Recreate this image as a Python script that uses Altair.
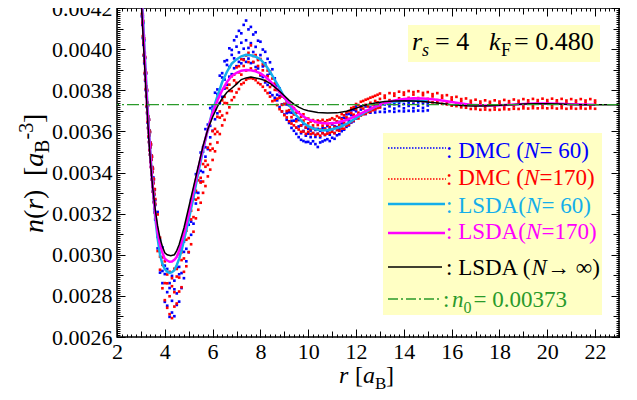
import altair as alt
import pandas as pd

W, H = 502, 329          # plot area
X0, Y0 = 117, 8          # page position of plot origin
FONT = "Liberation Serif, Times New Roman, Times, DejaVu Serif, serif"

# ---------------- data ----------------
r_dmc60 = [3.02, 3.04, 3.06, 3.08, 3.10, 3.12, 3.14, 3.16, 3.18, 3.20, 3.22, 3.24, 3.26, 3.28, 3.30,
           3.32, 3.34, 3.36, 3.38, 3.40, 3.42, 3.44, 3.46, 3.48, 3.50, 3.52, 3.54, 3.56, 3.58, 3.60,
           3.7, 3.8, 3.9,
           4.0, 4.1, 4.2, 4.3, 4.4, 4.5, 4.6, 4.7, 4.8, 4.9,
           5.0, 5.1, 5.2, 5.3, 5.4, 5.5, 5.6, 5.7, 5.8, 5.9,
           6.0, 6.1, 6.2, 6.3, 6.4, 6.5, 6.6, 6.7, 6.8, 6.9,
           7.0, 7.1, 7.2, 7.3, 7.4, 7.5, 7.6, 7.7, 7.8, 7.9,
           8.0, 8.1, 8.2, 8.3, 8.4, 8.5, 8.6, 8.7, 8.8, 8.9,
           9.0, 9.1, 9.2, 9.3, 9.4, 9.5, 9.6, 9.7, 9.8, 9.9,
           10.0, 10.1, 10.2, 10.3, 10.4, 10.5, 10.6, 10.7, 10.8, 10.9,
           11.0, 11.1, 11.2, 11.3, 11.4, 11.5, 11.6, 11.7, 11.8, 11.9,
           12.0, 12.2, 12.4, 12.6, 12.8, 13.0, 13.2, 13.4, 13.6, 13.8, 14.0, 14.2, 14.4, 14.6, 14.8, 15.0]
n_dmc60_hi = [0.004320, 0.004251, 0.004236, 0.004158, 0.004127, 0.004062, 0.004043, 0.003978, 0.003957, 0.003894,
              0.003881, 0.003813, 0.003797, 0.003735, 0.003728, 0.003668, 0.003657, 0.003604, 0.003597, 0.003545,
              0.003536, 0.003483, 0.003477, 0.003426, 0.003418, 0.003376, 0.003367, 0.003315, 0.003318, 0.003266,
              0.003208, 0.003071, 0.003036,
              0.002947, 0.002931, 0.002862, 0.002897, 0.002874, 0.002937, 0.002941, 0.003021, 0.003064, 0.003141,
              0.003172, 0.003267, 0.003306, 0.003392, 0.003421, 0.003497, 0.003523, 0.003611, 0.003633, 0.003713,
              0.003721, 0.003788, 0.003804, 0.003871, 0.003883, 0.003941, 0.003946, 0.004004, 0.003996, 0.004043,
              0.004061, 0.004089, 0.004077, 0.004118, 0.004139, 0.004096, 0.004108, 0.004071, 0.004082, 0.004041,
              0.004036, 0.003998, 0.003987, 0.003953, 0.003936, 0.003902, 0.003858, 0.003822, 0.003809, 0.003771,
              0.003766, 0.003731, 0.003727, 0.003691, 0.003688, 0.003659, 0.003655, 0.003628, 0.003636, 0.003618,
              0.003613, 0.003604, 0.003616, 0.003607, 0.003612, 0.003603, 0.003617, 0.003614, 0.003626, 0.003613,
              0.003634, 0.003625, 0.003646, 0.003645, 0.003664, 0.003666, 0.003683, 0.003685, 0.003702, 0.003705,
              0.003721, 0.003722, 0.003721, 0.003733, 0.003727, 0.003736, 0.003731, 0.003739, 0.003732, 0.003738,
              0.003733, 0.003740, 0.003735, 0.003741, 0.003736, 0.003738]
n_dmc60_mid = [0.004262, 0.004231, 0.004158, 0.004129, 0.004066, 0.004041, 0.003972, 0.003952, 0.003893, 0.003871,
               0.003814, 0.003792, 0.003733, 0.003712, 0.003661, 0.003644, 0.003593, 0.003581, 0.003532, 0.003522,
               0.003471, 0.003462, 0.003413, 0.003402, 0.003352, 0.003351, 0.003303, 0.003291, 0.003252, 0.003242,
               0.003087, 0.003052, 0.002921,
               0.002906, 0.002818, 0.002838, 0.002776, 0.002832, 0.002812, 0.002905, 0.002911, 0.003014, 0.003029,
               0.003146, 0.003161, 0.003272, 0.003304, 0.003398, 0.003408, 0.003501, 0.003523, 0.003608, 0.003627,
               0.003702, 0.003706, 0.003781, 0.003786, 0.003862, 0.003852, 0.003923, 0.003913, 0.003972, 0.003955,
               0.004012, 0.003984, 0.004031, 0.004002, 0.004043, 0.004006, 0.004029, 0.003986, 0.004011, 0.003953,
               0.003971, 0.003916, 0.003931, 0.003874, 0.003881, 0.003826, 0.003823, 0.003778, 0.003772, 0.003731,
               0.003733, 0.003689, 0.003693, 0.003651, 0.003652, 0.003618, 0.003624, 0.003591, 0.003602, 0.003579,
               0.003589, 0.003572, 0.003591, 0.003573, 0.003588, 0.003571, 0.003592, 0.003582, 0.003601, 0.003584,
               0.003608, 0.003592, 0.003621, 0.003613, 0.003639, 0.003632, 0.003659, 0.003652, 0.003679, 0.003673,
               0.003698, 0.003706, 0.003699, 0.003716, 0.003707, 0.003719, 0.003709, 0.003722, 0.003711, 0.003723,
               0.003712, 0.003724, 0.003713, 0.003725, 0.003714, 0.003726]
n_dmc60_lo = [0.004205, 0.004160, 0.004118, 0.004054, 0.004021, 0.003968, 0.003931, 0.003879, 0.003846, 0.003801,
              0.003768, 0.003719, 0.003688, 0.003642, 0.003617, 0.003571, 0.003548, 0.003509, 0.003487, 0.003452,
              0.003427, 0.003391, 0.003366, 0.003331, 0.003307, 0.003281, 0.003256, 0.003222, 0.003206, 0.003171,
              0.003031, 0.002913, 0.002862,
              0.002771, 0.002752, 0.002698, 0.002719, 0.002701, 0.002756, 0.002772, 0.002838, 0.002886, 0.002968,
              0.003012, 0.003097, 0.003151, 0.003249, 0.003301, 0.003356, 0.003402, 0.003477, 0.003514, 0.003571,
              0.003603, 0.003659, 0.003688, 0.003737, 0.003768, 0.003808, 0.003827, 0.003866, 0.003878, 0.003907,
              0.003917, 0.003938, 0.003931, 0.003951, 0.003938, 0.003954, 0.003932, 0.003936, 0.003913, 0.003906,
              0.003872, 0.003864, 0.003838, 0.003826, 0.003788, 0.003776, 0.003763, 0.003751, 0.003718, 0.003697,
              0.003682, 0.003657, 0.003641, 0.003617, 0.003603, 0.003588, 0.003572, 0.003559, 0.003553, 0.003548,
              0.003549, 0.003541, 0.003552, 0.003538, 0.003524, 0.003546, 0.003551, 0.003557, 0.003562, 0.003553,
              0.003569, 0.003564, 0.003581, 0.003586, 0.003601, 0.003608, 0.003622, 0.003629, 0.003643, 0.003649,
              0.003663, 0.003681, 0.003684, 0.003691, 0.003692, 0.003695, 0.003694, 0.003698, 0.003695, 0.003699,
              0.003697, 0.003700, 0.003698, 0.003701, 0.003699, 0.003702]

r_dmc170 = [3.02, 3.04, 3.06, 3.08, 3.10, 3.12, 3.14, 3.16, 3.18, 3.20, 3.22, 3.24, 3.26, 3.28, 3.30,
            3.32, 3.34, 3.36, 3.38, 3.40, 3.42, 3.44, 3.46, 3.48, 3.50, 3.52, 3.54, 3.56, 3.58, 3.60,
            3.7, 3.8, 3.9,
            4.0, 4.1, 4.2, 4.3, 4.4, 4.5, 4.6, 4.7, 4.8, 4.9,
            5.0, 5.1, 5.2, 5.3, 5.4, 5.5, 5.6, 5.7, 5.8, 5.9,
            6.0, 6.1, 6.2, 6.3, 6.4, 6.5, 6.6, 6.7, 6.8, 6.9,
            7.0, 7.1, 7.2, 7.3, 7.4, 7.5, 7.6, 7.7, 7.8, 7.9,
            8.0, 8.1, 8.2, 8.3, 8.4, 8.5, 8.6, 8.7, 8.8, 8.9,
            9.0, 9.1, 9.2, 9.3, 9.4, 9.5, 9.6, 9.7, 9.8, 9.9,
            10.0, 10.1, 10.2, 10.3, 10.4, 10.5, 10.6, 10.7, 10.8, 10.9,
            11.0, 11.1, 11.2, 11.3, 11.4, 11.5, 11.6, 11.7, 11.8, 11.9,
            12.0, 12.1, 12.2, 12.3, 12.4, 12.5, 12.6, 12.7, 12.8, 12.9,
            13.0, 13.2, 13.4, 13.6, 13.8, 14.0, 14.2, 14.4, 14.6, 14.8,
            15.0, 15.2, 15.4, 15.6, 15.8, 16.0, 16.2, 16.4, 16.6, 16.8,
            17.0, 17.2, 17.4, 17.6, 17.8, 18.0, 18.2, 18.4, 18.6, 18.8,
            19.0, 19.2, 19.4, 19.6, 19.8, 20.0, 20.2, 20.4, 20.6, 20.8,
            21.0, 21.2, 21.4, 21.6, 21.8, 22.0]
n_dmc170_hi = [0.004331, 0.004262, 0.004245, 0.004168, 0.004136, 0.004068, 0.004052, 0.003983, 0.003962, 0.003899,
               0.003886, 0.003818, 0.003802, 0.003740, 0.003727, 0.003673, 0.003657, 0.003604, 0.003597, 0.003545,
               0.003536, 0.003483, 0.003477, 0.003426, 0.003418, 0.003371, 0.003367, 0.003320, 0.003318, 0.003271,
               0.003196, 0.003083, 0.002987,
               0.002968, 0.002904, 0.002917, 0.002886, 0.002932, 0.002931, 0.003003, 0.003012, 0.003091, 0.003117,
               0.003191, 0.003214, 0.003287, 0.003311, 0.003362, 0.003374, 0.003441, 0.003457, 0.003521, 0.003538,
               0.003601, 0.003612, 0.003671, 0.003697, 0.003751, 0.003768, 0.003811, 0.003827, 0.003868, 0.003876,
               0.003911, 0.003917, 0.003951, 0.003947, 0.003969, 0.003982, 0.004018, 0.003967, 0.003971, 0.003947,
               0.003952, 0.003927, 0.003921, 0.003896, 0.003891, 0.003857, 0.003833, 0.003801, 0.003794, 0.003771,
               0.003764, 0.003741, 0.003734, 0.003711, 0.003713, 0.003691, 0.003693, 0.003671, 0.003683, 0.003661,
               0.003662, 0.003648, 0.003655, 0.003646, 0.003653, 0.003648, 0.003656, 0.003645, 0.003654, 0.003657,
               0.003664, 0.003658, 0.003674, 0.003667, 0.003684, 0.003678, 0.003693, 0.003698, 0.003713, 0.003718,
               0.003733, 0.003728, 0.003744, 0.003748, 0.003754, 0.003758, 0.003764, 0.003768, 0.003773, 0.003778,
               0.003784, 0.003774, 0.003786, 0.003784, 0.003793, 0.003789, 0.003796, 0.003791, 0.003795, 0.003787,
               0.003791, 0.003781, 0.003786, 0.003774, 0.003776, 0.003765, 0.003768, 0.003757, 0.003760, 0.003749,
               0.003754, 0.003745, 0.003751, 0.003744, 0.003751, 0.003745, 0.003753, 0.003747, 0.003755, 0.003749,
               0.003757, 0.003751, 0.003758, 0.003752, 0.003759, 0.003752, 0.003759, 0.003751, 0.003758, 0.003750,
               0.003757, 0.003750, 0.003757, 0.003750, 0.003757, 0.003750]
n_dmc170_mid = [0.004276, 0.004241, 0.004169, 0.004139, 0.004074, 0.004047, 0.003982, 0.003957, 0.003897, 0.003876,
                0.003819, 0.003797, 0.003738, 0.003717, 0.003662, 0.003649, 0.003593, 0.003581, 0.003532, 0.003522,
                0.003471, 0.003462, 0.003413, 0.003402, 0.003352, 0.003346, 0.003303, 0.003296, 0.003252, 0.003247,
                0.003122, 0.002991, 0.002951,
                0.002862, 0.002861, 0.002798, 0.002847, 0.002818, 0.002894, 0.002889, 0.002974, 0.002982, 0.003073,
                0.003081, 0.003172, 0.003183, 0.003268, 0.003276, 0.003351, 0.003356, 0.003428, 0.003437, 0.003508,
                0.003516, 0.003587, 0.003598, 0.003667, 0.003677, 0.003738, 0.003737, 0.003797, 0.003796, 0.003848,
                0.003836, 0.003887, 0.003876, 0.003918, 0.003896, 0.003937, 0.003906, 0.003938, 0.003896, 0.003918,
                0.003876, 0.003897, 0.003846, 0.003868, 0.003816, 0.003828, 0.003802, 0.003759, 0.003763, 0.003729,
                0.003733, 0.003699, 0.003703, 0.003669, 0.003682, 0.003649, 0.003663, 0.003629, 0.003652, 0.003619,
                0.003639, 0.003611, 0.003629, 0.003612, 0.003631, 0.003609, 0.003628, 0.003611, 0.003632, 0.003621,
                0.003639, 0.003621, 0.003648, 0.003631, 0.003659, 0.003641, 0.003668, 0.003661, 0.003689, 0.003681,
                0.003708, 0.003691, 0.003718, 0.003711, 0.003729, 0.003721, 0.003739, 0.003731, 0.003748, 0.003741,
                0.003758, 0.003763, 0.003752, 0.003773, 0.003761, 0.003778, 0.003763, 0.003779, 0.003762, 0.003776,
                0.003758, 0.003770, 0.003752, 0.003763, 0.003743, 0.003754, 0.003735, 0.003746, 0.003727, 0.003738,
                0.003721, 0.003734, 0.003718, 0.003733, 0.003718, 0.003734, 0.003720, 0.003736, 0.003722, 0.003738,
                0.003724, 0.003740, 0.003725, 0.003741, 0.003726, 0.003741, 0.003726, 0.003740, 0.003725, 0.003739,
                0.003724, 0.003739, 0.003724, 0.003739, 0.003724, 0.003739]
n_dmc170_lo = [0.004214, 0.004171, 0.004127, 0.004063, 0.004031, 0.003972, 0.003941, 0.003884, 0.003851, 0.003806,
               0.003773, 0.003724, 0.003693, 0.003647, 0.003616, 0.003576, 0.003548, 0.003509, 0.003487, 0.003452,
               0.003427, 0.003391, 0.003366, 0.003331, 0.003307, 0.003276, 0.003256, 0.003227, 0.003206, 0.003176,
               0.003018, 0.002927, 0.002837,
               0.002779, 0.002742, 0.002711, 0.002692, 0.002748, 0.002763, 0.002821, 0.002842, 0.002917, 0.002944,
               0.003013, 0.003051, 0.003112, 0.003177, 0.003219, 0.003253, 0.003301, 0.003334, 0.003381, 0.003414,
               0.003461, 0.003503, 0.003546, 0.003587, 0.003629, 0.003656, 0.003689, 0.003717, 0.003752, 0.003766,
               0.003789, 0.003806, 0.003829, 0.003836, 0.003851, 0.003858, 0.003859, 0.003856, 0.003849, 0.003836,
               0.003829, 0.003817, 0.003799, 0.003786, 0.003769, 0.003747, 0.003751, 0.003728, 0.003708, 0.003697,
               0.003679, 0.003668, 0.003649, 0.003638, 0.003629, 0.003618, 0.003609, 0.003598, 0.003599, 0.003588,
               0.003598, 0.003587, 0.003592, 0.003583, 0.003588, 0.003579, 0.003591, 0.003584, 0.003589, 0.003593,
               0.003598, 0.003591, 0.003606, 0.003603, 0.003614, 0.003613, 0.003628, 0.003633, 0.003646, 0.003653,
               0.003666, 0.003663, 0.003677, 0.003683, 0.003686, 0.003694, 0.003697, 0.003703, 0.003707, 0.003714,
               0.003716, 0.003736, 0.003739, 0.003745, 0.003748, 0.003749, 0.003751, 0.003748, 0.003752, 0.003747,
               0.003746, 0.003741, 0.003741, 0.003734, 0.003731, 0.003725, 0.003723, 0.003717, 0.003715, 0.003709,
               0.003709, 0.003705, 0.003706, 0.003704, 0.003706, 0.003705, 0.003708, 0.003707, 0.003710, 0.003709,
               0.003712, 0.003711, 0.003713, 0.003712, 0.003714, 0.003712, 0.003714, 0.003711, 0.003713, 0.003710,
               0.003712, 0.003710, 0.003712, 0.003710, 0.003712, 0.003710]

r_lsda60 = [3.00, 3.05, 3.10, 3.15, 3.20, 3.25, 3.30, 3.35, 3.40, 3.45, 3.50,
            3.60, 3.70, 3.80, 3.90, 4.00, 4.10, 4.20, 4.30, 4.40, 4.50, 4.60, 4.70, 4.80, 4.90,
            5.00, 5.20, 5.40, 5.60, 5.80, 6.00, 6.20, 6.40, 6.60, 6.80, 7.00, 7.20, 7.40, 7.60, 7.80,
            8.00, 8.20, 8.40, 8.60, 8.80, 9.00, 9.20, 9.40, 9.60, 9.80, 10.00, 10.20, 10.40, 10.60, 10.80,
            11.00, 11.20, 11.40, 11.60, 11.80, 12.00, 12.20, 12.40, 12.60, 12.80,
            13.00, 13.40, 13.80, 14.20, 14.60, 15.00]
n_lsda60 = [0.00433, 0.00423, 0.00412, 0.00400, 0.00389, 0.00378, 0.00368, 0.00358, 0.00349, 0.00340, 0.00332,
            0.00318, 0.00308, 0.00300, 0.002955, 0.00293, 0.002918, 0.002912, 0.002915, 0.002925, 0.00295, 0.00298,
            0.00302, 0.00307, 0.00312,
            0.00317, 0.00328, 0.00340, 0.00351, 0.00361, 0.00370, 0.00377, 0.00384, 0.00389, 0.00393, 0.00395,
            0.003965, 0.003972, 0.00397, 0.003963,
            0.00395, 0.003925, 0.00389, 0.00385, 0.00381, 0.003765, 0.00373, 0.00369, 0.003665, 0.00364,
            0.003625, 0.003614, 0.003608, 0.003605, 0.003606,
            0.00361, 0.003616, 0.003625, 0.003636, 0.00365, 0.003665, 0.00368, 0.003694, 0.003707, 0.003719,
            0.003728, 0.00374, 0.003747, 0.00375, 0.003749, 0.003746]

r_lsda170 = [3.00, 3.05, 3.10, 3.15, 3.20, 3.25, 3.30, 3.35, 3.40, 3.45, 3.50,
             3.60, 3.70, 3.80, 3.90, 4.00, 4.10, 4.20, 4.30, 4.40, 4.50, 4.60, 4.70, 4.80, 4.90,
             5.00, 5.20, 5.40, 5.60, 5.80, 6.00, 6.20, 6.40, 6.60, 6.80, 7.00, 7.20, 7.40, 7.60, 7.80,
             8.00, 8.20, 8.40, 8.60, 8.80, 9.00, 9.20, 9.40, 9.60, 9.80, 10.00,
             10.40, 10.80, 11.20, 11.60, 12.00, 12.40, 12.80, 13.20, 13.60, 14.00, 14.40, 14.80, 15.20, 15.60,
             16.00, 16.40, 16.80, 17.20, 17.60, 18.00,
             18.50, 19.00, 19.50, 20.00, 20.50, 21.00, 21.50, 22.00]
n_lsda170 = [0.00430, 0.00419, 0.00408, 0.00397, 0.00386, 0.00375, 0.00365, 0.00356, 0.00347, 0.00339, 0.00332,
             0.00320, 0.00311, 0.00305, 0.00301, 0.00298, 0.002972, 0.002966, 0.002967, 0.002975, 0.00299, 0.00302,
             0.00306, 0.00310, 0.00315,
             0.00320, 0.00331, 0.00342, 0.00352, 0.00361, 0.00369, 0.00375, 0.00380, 0.00384, 0.00387, 0.003885,
             0.003895, 0.003898, 0.003897, 0.003892,
             0.003882, 0.003866, 0.003845, 0.003819, 0.003792, 0.003764, 0.003737, 0.003712, 0.00369, 0.003672,
             0.003658,
             0.003643, 0.003638, 0.003642, 0.003655, 0.003675, 0.003698, 0.00372, 0.003738, 0.00375, 0.003758,
             0.003761, 0.00376, 0.003756, 0.00375, 0.003743, 0.003736, 0.00373, 0.003727, 0.003726, 0.003727,
             0.00373, 0.003733, 0.003735, 0.003735, 0.003734, 0.003732, 0.003731, 0.00373]

r_lsda_inf = [3.00, 3.05, 3.10, 3.15, 3.20, 3.25, 3.30, 3.35, 3.40, 3.45, 3.50,
              3.60, 3.70, 3.80, 3.90, 4.00, 4.10, 4.25, 4.40, 4.50, 4.60, 4.70, 4.80, 4.90,
              5.00, 5.20, 5.40, 5.60, 5.80, 6.00, 6.20, 6.40, 6.60, 6.80, 7.00, 7.20, 7.40, 7.60, 7.80,
              8.00, 8.20, 8.40, 8.60, 8.80, 9.00, 9.20, 9.40, 9.60, 9.80, 10.00,
              10.40, 10.80, 11.20, 11.60, 12.00, 12.40, 12.80, 13.20, 13.60, 14.00, 14.40, 14.80, 15.20, 15.60,
              16.00, 16.40, 16.80, 17.20, 17.60, 18.00,
              18.50, 19.00, 19.50, 20.00, 20.50, 21.00, 21.50, 22.00, 22.50, 23.00]
n_lsda_inf = [0.00427, 0.00416, 0.00404, 0.00393, 0.00382, 0.00372, 0.00362, 0.00353, 0.00345, 0.00338, 0.00332,
              0.00322, 0.00314, 0.00308, 0.00304, 0.00301, 0.00300, 0.002995, 0.00300, 0.00302, 0.00305, 0.00309,
              0.00313, 0.00318,
              0.00323, 0.00333, 0.00343, 0.00353, 0.00361, 0.00367, 0.00372, 0.00376, 0.00379, 0.00381, 0.00383,
              0.003852, 0.00386, 0.003864, 0.00386,
              0.003855, 0.003847, 0.003834, 0.003815, 0.003795, 0.003773, 0.003751, 0.003733, 0.003718, 0.003707,
              0.0037,
              0.003692, 0.003689, 0.00369, 0.003698, 0.003713, 0.003728, 0.003738, 0.003745, 0.003748, 0.003749,
              0.003748, 0.003745, 0.003741, 0.003735, 0.00373, 0.003726, 0.003724, 0.003724, 0.003725, 0.003727,
              0.00373, 0.003733, 0.003734, 0.003734, 0.003733, 0.003731, 0.00373, 0.00373, 0.00373, 0.00373]

n0 = 0.00373

x_major = [2, 4, 6, 8, 10, 12, 14, 16, 18, 20, 22]
x_mid = list(range(2, 24))
x_minor = [round(2 + 0.2 * i, 1) for i in range(106)]
y_major = [0.0026, 0.0028, 0.0030, 0.0032, 0.0034, 0.0036, 0.0038, 0.0040, 0.0042]
y_mid = [round(0.0026 + 0.0001 * i, 4) for i in range(17)]
y_minor = [round(0.0026 + 0.00001 * i, 5) for i in range(161)]

BLUE, RED, CYAN, MAGENTA, GREEN = "#0000ff", "#ff0000", "#14aeea", "#ff00ff", "#2a9a2a"
BOXFILL = "#ffffc4"

xs = alt.Scale(domain=[2, 23], nice=False, zero=False)
ys = alt.Scale(domain=[0.0026, 0.0042], nice=False, zero=False)


def pts(r, hi, mid, lo, color):
    df = pd.DataFrame({"r": r + r + r, "n": hi + mid + lo})
    return alt.Chart(df).mark_square(size=7, color=color, opacity=1, clip=True).encode(
        x=alt.X("r:Q", scale=xs, axis=None), y=alt.Y("n:Q", scale=ys, axis=None))


def line(r, n, color, w):
    df = pd.DataFrame({"r": r, "n": n})
    return alt.Chart(df).mark_line(color=color, strokeWidth=w, clip=True).encode(
        x=alt.X("r:Q", scale=xs, axis=None), y=alt.Y("n:Q", scale=ys, axis=None))


green_line = alt.Chart(pd.DataFrame({"n": [n0]})).mark_rule(
    color=GREEN, strokeWidth=1.3, strokeDash=[12, 3, 2, 3]).encode(
    y=alt.Y("n:Q", scale=ys, axis=None))

dummy = pd.DataFrame({"r": [2, 23], "n": [0.0026, 0.0042]})


def tick_axis(orient, values, size, offset):
    return alt.Axis(orient=orient, values=values, tickSize=size, offset=offset, labels=False,
                    domain=False, grid=False, title=None, ticks=True, tickColor="black",
                    tickWidth=1, zindex=2)


def axis_layer(xax, yax):
    return alt.Chart(dummy).mark_point(opacity=0).encode(
        x=alt.X("r:Q", scale=xs, axis=xax), y=alt.Y("n:Q", scale=ys, axis=yax))


axis_layers = []
for xv, yv, s in [(x_minor, y_minor, 3), (x_mid, y_mid, 6), (x_major, y_major, 8)]:
    # bottom and left edges (ticks pointing inward)
    axis_layers.append(axis_layer(tick_axis("top", xv, s, -H), tick_axis("right", yv, s, -W)))
    # top and right edges
    axis_layers.append(axis_layer(tick_axis("bottom", xv, s, -H), tick_axis("left", yv, s, -W)))

label_layer = axis_layer(
    alt.Axis(orient="bottom", values=x_major, ticks=False, tickSize=0, domain=False, grid=False,
             title=None, labelFont=FONT, labelFontSize=22, labelColor="black", labelPadding=4,
             labelFlush=False),
    alt.Axis(orient="left", values=y_major, format=".4f", ticks=False, tickSize=0, domain=False,
             grid=False, title=None, labelFont=FONT, labelFontSize=22, labelColor="black",
             labelPadding=5, labelFlush=False))

one = pd.DataFrame({"k": [0]})


def txt(s, px, py, size, color="black", style="normal", angle=0):
    return alt.Chart(one).mark_text(text=s, font=FONT, fontSize=size, color=color, fontStyle=style,
                                    align="left", baseline="alphabetic", angle=angle).encode(
        x=alt.value(px - X0), y=alt.value(py - Y0))


def box(x1, x2, y1, y2, fill):
    return alt.Chart(one).mark_rect(color=fill).encode(
        x=alt.value(x1 - X0), x2=alt.value(x2 - X0), y=alt.value(y1 - Y0), y2=alt.value(y2 - Y0))


def sample(x1, x2, y, color, w, dash=None):
    kw = dict(color=color, strokeWidth=w)
    if dash:
        kw["strokeDash"] = dash
    return alt.Chart(one).mark_rule(**kw).encode(
        x=alt.value(x1 - X0), x2=alt.value(x2 - X0), y=alt.value(y - Y0))


LF = 23  # legend font size
annot = [
    # r_s / k_F box
    box(408, 600, 25, 62, BOXFILL),
    txt("r", 412, 50, 26, style="italic"),
    txt("s", 422, 56, 18, style="italic"),
    txt("= 4", 435, 50, 26),
    txt("k", 489, 50, 26, style="italic"),
    txt("F", 501, 56, 18),
    txt("= 0.480", 514, 50, 26),
    # legend box
    box(383, 602, 133, 315, BOXFILL),
    sample(388, 446, 148, BLUE, 1.6, [1.5, 1.5]),
    txt(": DMC (", 446, 158, LF, BLUE), txt("N", 524, 158, LF, BLUE, "italic"),
    txt("= 60)", 539.5, 158, LF, BLUE),
    sample(388, 446, 179, RED, 1.6, [1.5, 1.5]),
    txt(": DMC (", 446, 185, LF, RED), txt("N", 524, 185, LF, RED, "italic"),
    txt("=170)", 539.5, 185, LF, RED),
    sample(388, 445, 204, CYAN, 2.5),
    txt(": LSDA(", 446, 213, LF, CYAN), txt("N", 526, 213, LF, CYAN, "italic"),
    txt("= 60)", 541.5, 213, LF, CYAN),
    sample(388, 445, 233, MAGENTA, 2.5),
    txt(": LSDA(", 446, 239, LF, MAGENTA), txt("N", 526, 239, LF, MAGENTA, "italic"),
    txt("=170)", 541.5, 239, LF, MAGENTA),
    sample(388, 442, 267, "black", 1.5),
    txt(": LSDA (", 446, 275, LF), txt("N", 531.5, 275, LF, style="italic"),
    txt("\u2192 \u221e)", 547, 275, LF),
    sample(388, 442, 299, GREEN, 1.3, [10, 3, 2, 3]),
    txt(":", 443, 307, LF, GREEN), txt("n", 452, 307, LF, GREEN, "italic"),
    txt("0", 463.5, 313, 16, GREEN), txt("= 0.00373", 473.5, 307, LF, GREEN),
    # x title
    txt("r", 339, 383, 24, style="italic"), txt("[", 355, 383, 24),
    txt("a", 363, 383, 24, style="italic"), txt("B", 375, 389, 17), txt("]", 386, 383, 24),
    # y title (rotated)
    txt("n", 43, 233, 28, style="italic", angle=270), txt("(", 43, 219, 28, angle=270),
    txt("r", 43, 209.7, 28, style="italic", angle=270), txt(")", 43, 199, 28, angle=270),
    txt("[", 43, 176, 28, angle=270), txt("a", 43, 166.8, 28, style="italic", angle=270),
    txt("B", 49, 153, 20, angle=270), txt("-3", 33, 139.5, 20, angle=270),
    txt("]", 43, 123, 28, angle=270),
]

layers = [
    pts(r_dmc60, n_dmc60_hi, n_dmc60_mid, n_dmc60_lo, BLUE),
    pts(r_dmc170, n_dmc170_hi, n_dmc170_mid, n_dmc170_lo, RED),
    line(r_lsda60, n_lsda60, CYAN, 2.5),
    line(r_lsda170, n_lsda170, MAGENTA, 2.5),
    line(r_lsda_inf, n_lsda_inf, "black", 1.5),
    green_line,
] + annot + axis_layers + [label_layer]

chart = alt.layer(*layers).resolve_axis(x="independent", y="independent").properties(
    width=W, height=H, autosize="none",
    padding={"left": X0 - 8, "top": Y0 - 8, "right": 10, "bottom": 55},
).configure_view(stroke="black", strokeWidth=1.5)

chart.save("out.html", embed_options={"renderer": "svg", "actions": False})
